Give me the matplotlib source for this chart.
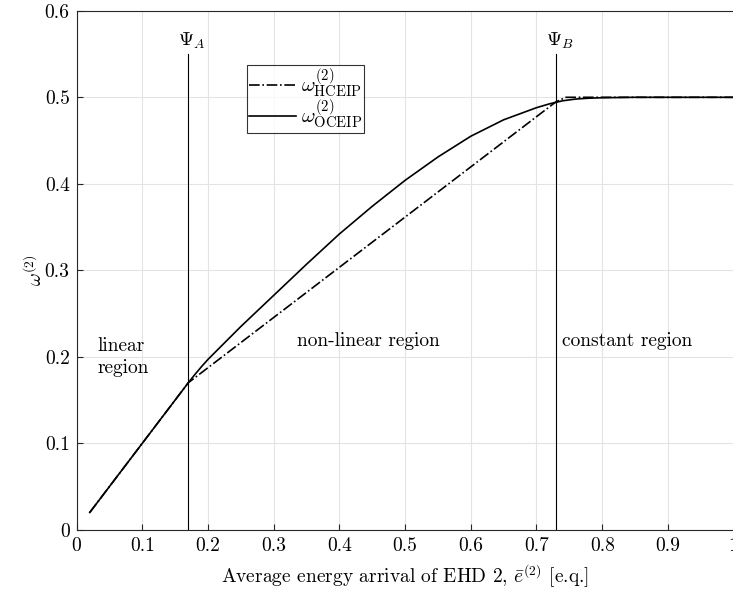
import matplotlib
matplotlib.use("Agg")
import matplotlib.pyplot as plt

plt.rcParams['font.family'] = 'serif'
plt.rcParams['font.serif'] = ['cmr10']
plt.rcParams['mathtext.fontset'] = 'cm'
plt.rcParams['axes.formatter.use_mathtext'] = True

# values
x_hceip = [0.02, 0.17, 0.73, 0.745, 1.0]
y_hceip = [0.02, 0.17, 0.495, 0.5, 0.5]

x_oceip = [0.02, 0.10, 0.17, 0.18, 0.19, 0.20, 0.25, 0.30, 0.35, 0.40, 0.45, 0.50,
           0.55, 0.60, 0.65, 0.70, 0.72, 0.74, 0.76, 0.78, 0.80, 0.85, 0.90, 1.0]
y_oceip = [0.02, 0.10, 0.17, 0.1795, 0.1885, 0.197, 0.235, 0.271, 0.307, 0.342, 0.374, 0.404,
           0.431, 0.455, 0.474, 0.488, 0.4925, 0.496, 0.498, 0.499, 0.4995, 0.5, 0.5, 0.5]

psi_a = 0.17
psi_b = 0.73
xticks = [0, 0.1, 0.2, 0.3, 0.4, 0.5, 0.6, 0.7, 0.8, 0.9, 1]
yticks = [0, 0.1, 0.2, 0.3, 0.4, 0.5, 0.6]
xticklabels = ['0', '0.1', '0.2', '0.3', '0.4', '0.5', '0.6', '0.7', '0.8', '0.9', '1']
yticklabels = ['0', '0.1', '0.2', '0.3', '0.4', '0.5', '0.6']

fs = 14

fig = plt.figure(figsize=(7.33, 5.94), dpi=100)
ax = fig.add_axes([0.1045, 0.1081, 0.8963, 0.8737])

ax.plot(x_hceip, y_hceip, color='black', linestyle='-.', linewidth=1.2,
        label=r'$\omega^{(2)}_{\mathrm{HCEIP}}$')
ax.plot(x_oceip, y_oceip, color='black', linestyle='-', linewidth=1.2,
        label=r'$\omega^{(2)}_{\mathrm{OCEIP}}$')

ax.plot([psi_a, psi_a], [0, 0.55], color='black', linewidth=0.8)
ax.plot([psi_b, psi_b], [0, 0.55], color='black', linewidth=0.8)
ax.text(0.154, 0.565, r'$\Psi_A$', fontsize=fs, ha='left', va='center')
ax.text(0.714, 0.565, r'$\Psi_B$', fontsize=fs, ha='left', va='center')

ax.text(0.032, 0.20, 'linear\nregion', fontsize=fs, va='center', linespacing=1.25)
ax.text(0.335, 0.218, 'non-linear region', fontsize=fs, va='center')
ax.text(0.739, 0.218, 'constant region', fontsize=fs, va='center')

ax.set_xlim(0, 1)
ax.set_ylim(0, 0.6)
ax.set_xticks(xticks)
ax.set_yticks(yticks)
ax.set_xticklabels(xticklabels)
ax.set_yticklabels(yticklabels)
ax.tick_params(direction='in', length=4, labelsize=fs, color='#262626', pad=5)
ax.grid(True, color='#e3e3e3', linewidth=0.8)
ax.set_axisbelow(True)
for s in ax.spines.values():
    s.set_color('#262626')
    s.set_linewidth(0.8)

ax.set_xlabel(r'Average energy arrival of EHD 2, $\bar{e}^{(2)}$ [e.q.]', fontsize=fs, labelpad=6)
ax.set_ylabel(r'$\omega^{(2)}$', fontsize=fs)
ax.yaxis.set_label_coords(-0.047, 0.5)

leg = ax.legend(loc='upper left', bbox_to_anchor=(0.26, 0.8956), fontsize=15,
                frameon=True, fancybox=False, edgecolor='black', handlelength=2.25,
                borderpad=0.1, labelspacing=-0.12, handletextpad=0.2, borderaxespad=0)
leg.get_frame().set_linewidth(0.8)

fig.savefig('out.png', dpi=100)
